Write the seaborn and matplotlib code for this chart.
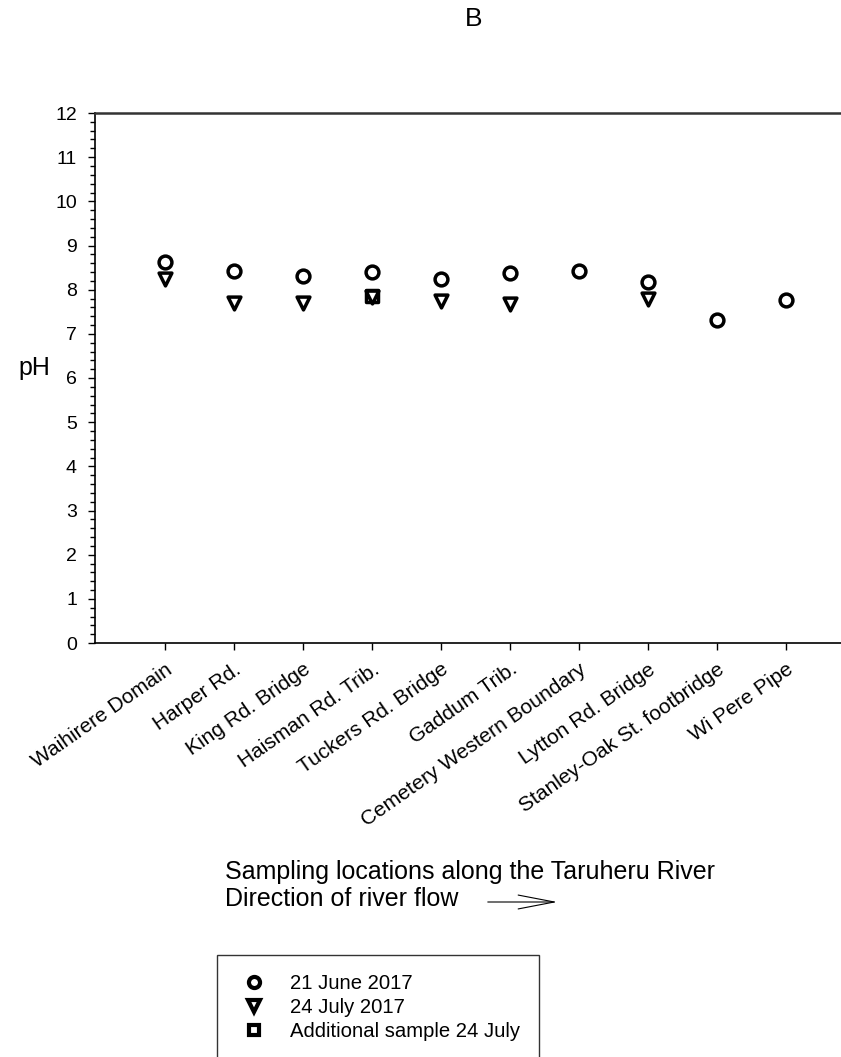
import matplotlib
matplotlib.use("Agg")
import matplotlib.pyplot as plt
from matplotlib.lines import Line2D
from matplotlib.patches import FancyArrowPatch
from matplotlib.ticker import MultipleLocator
import numpy as np
import pandas as pd
import seaborn as sns

# Sampling sites, upstream to downstream
locations = [
    "Waihirere Domain", "Harper Rd.", "King Rd. Bridge", "Haisman Rd. Trib.",
    "Tuckers Rd. Bridge", "Gaddum Trib.", "Cemetery Western Boundary",
    "Lytton Rd. Bridge", "Stanley-Oak St. footbridge", "Wi Pere Pipe",
]
ph_june = [8.62, 8.43, 8.32, 8.40, 8.25, 8.37, 8.43, 8.17, 7.31, 7.76]
ph_july = [8.24, 7.70, 7.70, 7.84, 7.74, 7.68, np.nan, 7.80, np.nan, np.nan]
extra_site = ["Haisman Rd. Trib."]
ph_extra = [7.86]

sns.set_style("ticks", {"text.color": "black", "axes.labelcolor": "black",
                        "xtick.color": "black", "ytick.color": "black",
                        "axes.edgecolor": "black"})
plt.rcParams["font.family"] = ["Liberation Sans", "DejaVu Sans"]

W, H = 841, 1057
fig = plt.figure(figsize=(W / 100, H / 100), dpi=100)
ax = fig.add_axes([95 / W, 1 - 643 / H, 1 - 95 / W, (643 - 113) / H])

df_june = pd.DataFrame({"site": locations, "pH": ph_june})
df_july = pd.DataFrame({"site": locations, "pH": ph_july})
df_extra = pd.DataFrame({"site": extra_site, "pH": ph_extra})

mk = dict(color="white", edgecolor="black", linewidth=2.5, s=85, zorder=3, legend=False)
sns.scatterplot(data=df_june, x="site", y="pH", marker="o", ax=ax, **mk)
sns.scatterplot(data=df_extra, x="site", y="pH", marker="s", ax=ax, **mk)
sns.scatterplot(data=df_july, x="site", y="pH", marker="v", ax=ax, **mk)

ax.set_xticks(range(len(locations)))
ax.set_xticklabels(locations, rotation=35, ha="right", va="top",
                   rotation_mode="anchor", fontsize=15)
ax.set_xlim(-1.01, 9.8)
ax.set_ylim(0, 12)
ax.yaxis.set_major_locator(MultipleLocator(1))
ax.yaxis.set_minor_locator(MultipleLocator(0.2))
ax.tick_params(axis="y", which="major", length=5, width=1, labelsize=14,
               direction="out", pad=8)
ax.tick_params(axis="y", which="minor", length=3.3, width=1, direction="out")
ax.tick_params(axis="x", which="major", length=5, width=1, direction="out", pad=7)

ax.spines["right"].set_visible(False)
ax.spines["top"].set_visible(True)
ax.spines["top"].set_linewidth(1.8)
ax.spines["top"].set_color("#333333")
ax.spines["left"].set_linewidth(1.2)
ax.spines["bottom"].set_linewidth(1.2)

ax.set_xlabel("")
ax.set_ylabel("pH", rotation=0, fontsize=18, va="center", ha="center")
ax.yaxis.set_label_coords((34 - 95) / (W - 95), (643 - 368) / (643 - 113))

fig.text(474 / W, 1 - 19 / H, "B", ha="center", va="center", fontsize=19)
fig.text(225 / W, 1 - 879 / H, "Sampling locations along the Taruheru River",
         ha="left", va="baseline", fontsize=18)
fig.text(225 / W, 1 - 906 / H, "Direction of river flow",
         ha="left", va="baseline", fontsize=18)
fig.add_artist(FancyArrowPatch(
    (485 / W, 1 - 902 / H), (560 / W, 1 - 902 / H),
    transform=fig.transFigure, arrowstyle="->,head_length=2.6,head_width=0.5",
    color="black", linewidth=0.8, mutation_scale=10))

handles = [
    Line2D([], [], marker="o", ls="none", mfc="white", mec="black", mew=3, ms=8),
    Line2D([], [], marker="v", ls="none", mfc="white", mec="black", mew=3, ms=8),
    Line2D([], [], marker="s", ls="none", mfc="white", mec="black", mew=3, ms=7.5),
]
labels = ["21 June 2017", "24 July 2017", "Additional sample 24 July"]
leg = fig.legend(handles, labels, loc="upper left",
                 bbox_to_anchor=(217 / W, 1 - 955 / H), fontsize=14.6,
                 frameon=True, fancybox=False, borderpad=0.95, labelspacing=0.25,
                 handletextpad=0.95, borderaxespad=0, handlelength=1.7)
frame = leg.get_frame()
frame.set_edgecolor("black")
frame.set_linewidth(1.0)

fig.savefig("out.png", dpi=100)
